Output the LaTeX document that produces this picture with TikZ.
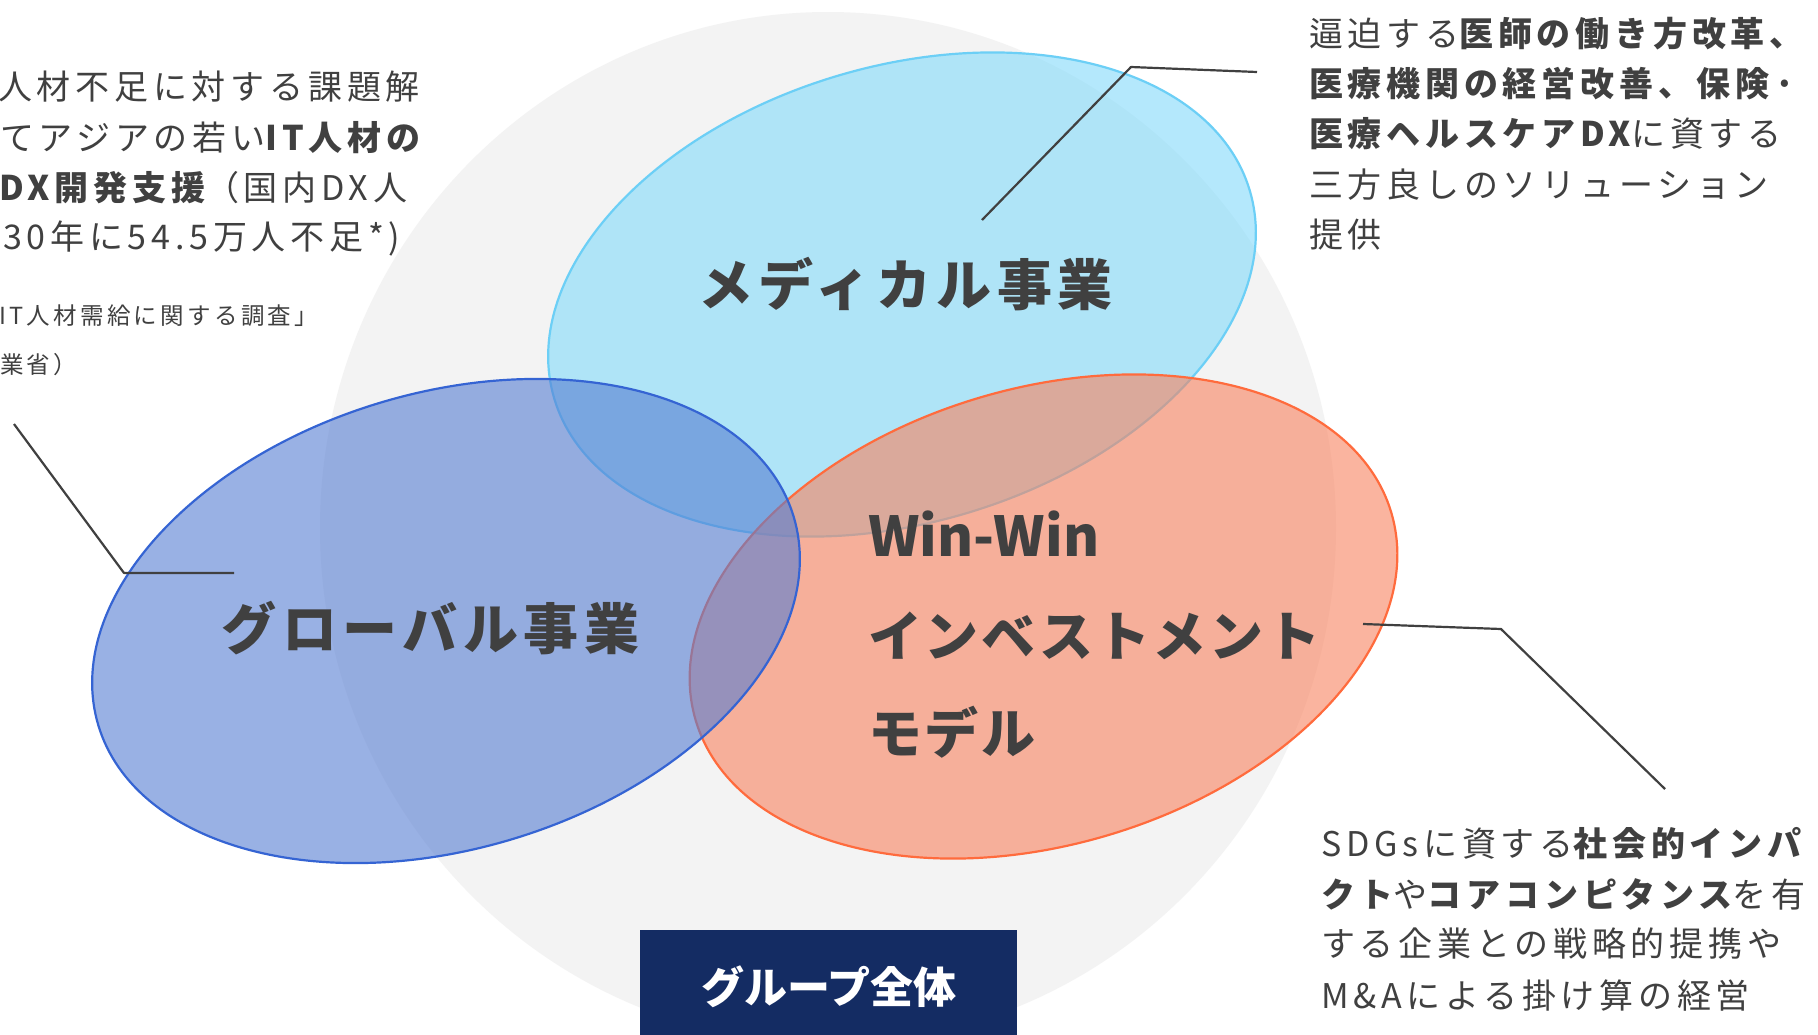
\documentclass[tikz,border=0pt]{standalone}
\usepackage{fontspec}
\setmainfont{Noto Sans CJK JP}
\newfontfamily\bodyf{Noto Sans CJK JP}[LetterSpace=14]
\newfontfamily\labf{Noto Sans CJK JP}[LetterSpace=10]
\newfontfamily\winf{Noto Sans CJK JP}[LetterSpace=5]
\newfontfamily\boxf{Noto Sans CJK JP}
\newcommand\lt[1]{{\addfontfeatures{LetterSpace=0}#1}}
\definecolor{bggray}{HTML}{F3F3F3}
\definecolor{medfill}{HTML}{83DAFB}
\definecolor{medline}{HTML}{6CCFF6}
\definecolor{orfill}{HTML}{F8835F}
\definecolor{orline}{HTML}{FF6B3D}
\definecolor{glfill}{HTML}{567DD2}
\definecolor{glline}{HTML}{3564D3}
\definecolor{txt}{HTML}{404040}
\definecolor{navy}{HTML}{142C63}
\begin{document}
\begin{tikzpicture}[x=1pt,y=-1pt,line join=round,
  venn/.style={fill opacity=0.6,line width=2.2pt},
  bodytext/.style={anchor=base west,inner sep=0pt,text=txt,font=\bodyf\fontsize{34}{40}\selectfont},
  notetext/.style={anchor=base west,inner sep=0pt,text=txt,font=\bodyf\fontsize{23.5}{28}\selectfont},
  biglabel/.style={inner sep=0pt,text=txt,font=\labf\bfseries\fontsize{55}{60}\selectfont},
  winlabel/.style={inner sep=0pt,text=txt,anchor=base west,font=\winf\bfseries\fontsize{54}{60}\selectfont},
  callout/.style={draw=txt,line width=2.2pt}]
\useasboundingbox (0,0) rectangle (1818,1034);
\clip (0,0) rectangle (1818,1034);
\fill[white] (0,0) rectangle (1818,1034);
\fill[bggray] (828,528) ellipse [x radius=508pt,y radius=516pt];

% ellipses
\draw[venn,fill=medfill,draw=medline,shift={(902,294.5)},rotate=16.7] (0,0) ellipse [x radius=363pt,y radius=228pt];
\draw[venn,fill=orfill,draw=orline,shift={(1043.5,616.5)},rotate=16.7] (0,0) ellipse [x radius=363pt,y radius=228pt];
\draw[venn,fill=glfill,draw=glline,shift={(446,621)},rotate=16.7] (0,0) ellipse [x radius=363pt,y radius=228pt];

% labels in ellipses
\node[biglabel,anchor=base] (med) at (905.5,305.5) {メディカル事業};
\node[biglabel,anchor=base] (glo) at (430.5,649) {グローバル事業};
\node[winlabel] (ww1) at (868,556) {\lt{\fontsize{55}{60}\selectfont Win-Win}};
\node[winlabel] (ww2) at (868,656) {インベストメント};
\node[winlabel] (ww3) at (868,753) {モデル};

% group box
\node[fill=navy,draw=none,minimum width=377pt,minimum height=110pt,anchor=north west,inner sep=0pt] (box) at (640,930) {};
\node[inner sep=0pt,anchor=base,text=white,font=\boxf\bfseries\fontsize{43}{48}\selectfont] (grp) at (829,1003) {グループ全体};

% top right text
\node[bodytext] (tr1) at (1309,46.5) {逼迫する{\bfseries 医師の働き方改革、}};
\node[bodytext] (tr2) at (1309,96.5) {{\bfseries 医療機関の経営改善、保険·}};
\node[bodytext] (tr3) at (1309,146.5) {{\bfseries 医療ヘルスケアDX}に資する};
\node[bodytext] (tr4) at (1309,197) {三方良しのソリューション};
\node[bodytext] (tr5) at (1309,247) {提供};

% left text
\node[bodytext] (tl1) at (-2,99.5) {人材不足に対する課題解};
\node[bodytext] (tl2) at (0,150.5) {てアジアの若い{\bfseries IT人材の}};
\node[bodytext] (tl3) at (-1,200.5) {{\bfseries DX開発支援}（国内DX人};
\node[bodytext] (tl4) at (3,249.5) {30年に54.5万人不足*)};
\node[notetext] (tn1) at (-1,324.5) {IT人材需給に関する調査」};
\node[notetext] (tn2) at (0,373) {業省）};

% bottom right text
\node[bodytext] (br1) at (1321,856) {SDGsに資する{\bfseries 社会的インパ}};
\node[bodytext] (br2) at (1321,907.5) {{\bfseries クト}や{\bfseries コアコンピタンス}を有};
\node[bodytext] (br3) at (1321,956.5) {する企業との戦略的提携や};
\node[bodytext] (br4) at (1321,1008) {M\&Aによる掛け算の経営};

% callout lines
\coordinate (m0) at (982,220);
\coordinate (m1) at (1131,67);
\coordinate (m2) at (1257,72);
\draw[callout] (m0) -- (m1) -- (m2);
\coordinate (g0) at (14,424);
\coordinate (g1) at (124,573);
\coordinate (g2) at (234,573);
\draw[callout] (g0) -- (g1) -- (g2);
\coordinate (o0) at (1363,624);
\coordinate (o1) at (1501,629);
\coordinate (o2) at (1665,789);
\draw[callout] (o0) -- (o1) -- (o2);
\end{tikzpicture}
\end{document}
